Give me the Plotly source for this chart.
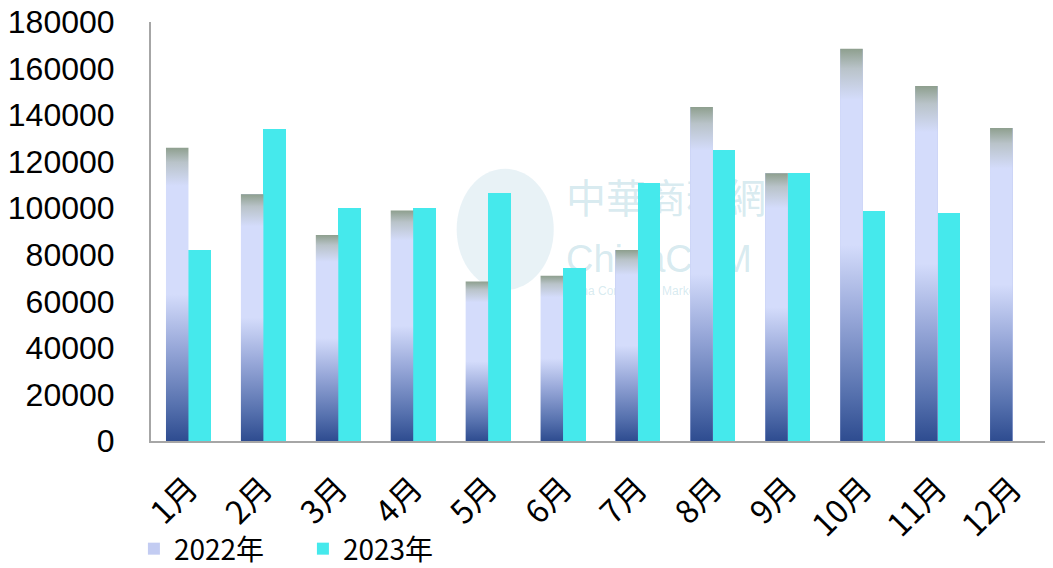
import plotly.graph_objects as go

months = ["1月", "2月", "3月", "4月", "5月", "6月", "7月", "8月", "9月", "10月", "11月", "12月"]
v2022 = [126000, 106000, 88500, 99000, 68500, 71000, 82000, 143500, 115000, 168500, 152500, 134500]
v2023 = [82000, 134000, 100000, 100000, 106500, 74500, 111000, 125000, 115000, 99000, 98000, None]
series_names = ["2022年", "2023年"]
y_ticks = [0, 20000, 40000, 60000, 80000, 100000, 120000, 140000, 160000, 180000]

x = list(range(len(months)))
W = 0.3
grad = [[0.0, "#2e4c90"], [0.12, "#5671ae"], [0.32, "#98a8d9"], [0.5, "#d4dcfb"],
        [0.87, "#d4dcfb"], [0.95, "#b9c3c9"], [1.0, "#8e9f8e"]]
FONT = "Noto Sans CJK SC"
NUMFONT = "Liberation Sans"

fig = go.Figure()
fig.add_trace(go.Bar(x=x, y=v2022, name=series_names[0], offset=-W, width=W,
                     marker=dict(color="#c3ccf2", line=dict(width=0))))
fig.add_trace(go.Bar(x=x, y=v2023, name=series_names[1], offset=0, width=W,
                     marker=dict(color="#45e9ec", line=dict(width=0))))
# gradient overlay on 2022 bars
for i, v in zip(x, v2022):
    fig.add_trace(go.Scatter(
        x=[i - W, i, i, i - W, i - W], y=[0, 0, v, v, 0],
        mode="lines", line=dict(width=0), fill="toself",
        fillgradient=dict(type="vertical", colorscale=grad),
        showlegend=False, hoverinfo="skip"))

# faint watermark (drawn below the bars)
wm = "rgba(120,185,205,0.30)"
fig.add_shape(type="circle", xref="paper", yref="paper",
              x0=0.34, x1=0.448, y0=0.36, y1=0.65,
              fillcolor="rgba(110,175,200,0.16)", line=dict(width=0), layer="below")
fig.add_shape(type="rect", xref="paper", yref="paper", x0=0.455, x1=0.70, y0=0.50, y1=0.64,
              line=dict(width=0), fillcolor="rgba(0,0,0,0)", layer="below",
              label=dict(text="中華商務網", textposition="middle left",
                         font=dict(family=FONT, size=40, color=wm)))
fig.add_shape(type="rect", xref="paper", yref="paper", x0=0.455, x1=0.70, y0=0.39, y1=0.50,
              line=dict(width=0), fillcolor="rgba(0,0,0,0)", layer="below",
              label=dict(text="ChinaCCM", textposition="middle left",
                         font=dict(family=NUMFONT, size=38, color=wm)))
fig.add_shape(type="rect", xref="paper", yref="paper", x0=0.452, x1=0.70, y0=0.33, y1=0.39,
              line=dict(width=0), fillcolor="rgba(0,0,0,0)", layer="below",
              label=dict(text="China Commodity Marketplace", textposition="middle left",
                         font=dict(family=NUMFONT, size=12, color=wm)))

# the page body adds an 8px offset, so the figure is sized to fill the rest of the window
fig.update_layout(
    width=1045, height=560,
    margin=dict(l=143, r=3, t=14, b=127, autoexpand=False),
    paper_bgcolor="white", plot_bgcolor="white",
    barmode="overlay", bargap=0,
    font=dict(family=FONT, color="black"),
    showlegend=True,
    legend=dict(orientation="h", x=-0.019, y=-0.198, xanchor="left", yanchor="top",
                font=dict(family=FONT, size=28, color="black"),
                entrywidth=124, entrywidthmode="pixels",
                traceorder="normal", bgcolor="rgba(0,0,0,0)"),
)
fig.update_xaxes(
    tickmode="array", tickvals=x, ticktext=months, range=[-0.5, 11.5],
    tickangle=-45, tickfont=dict(family=FONT, size=32, color="black"),
    ticklabelstandoff=14, ticklabeloverflow="allow",
    showline=True, linecolor="#a6a6a6", linewidth=2, showgrid=False, zeroline=False,
    ticks="", automargin=False,
)
fig.update_yaxes(
    range=[0, 180000], tickmode="array", tickvals=y_ticks,
    ticktext=[str(t) for t in y_ticks],
    tickfont=dict(family=NUMFONT, size=32, color="black"),
    ticklabelstandoff=28, ticklabeloverflow="allow",
    showline=True, linecolor="#a6a6a6", linewidth=2, showgrid=False, zeroline=False,
    ticks="", automargin=False,
)

fig.write_html("out.html")
